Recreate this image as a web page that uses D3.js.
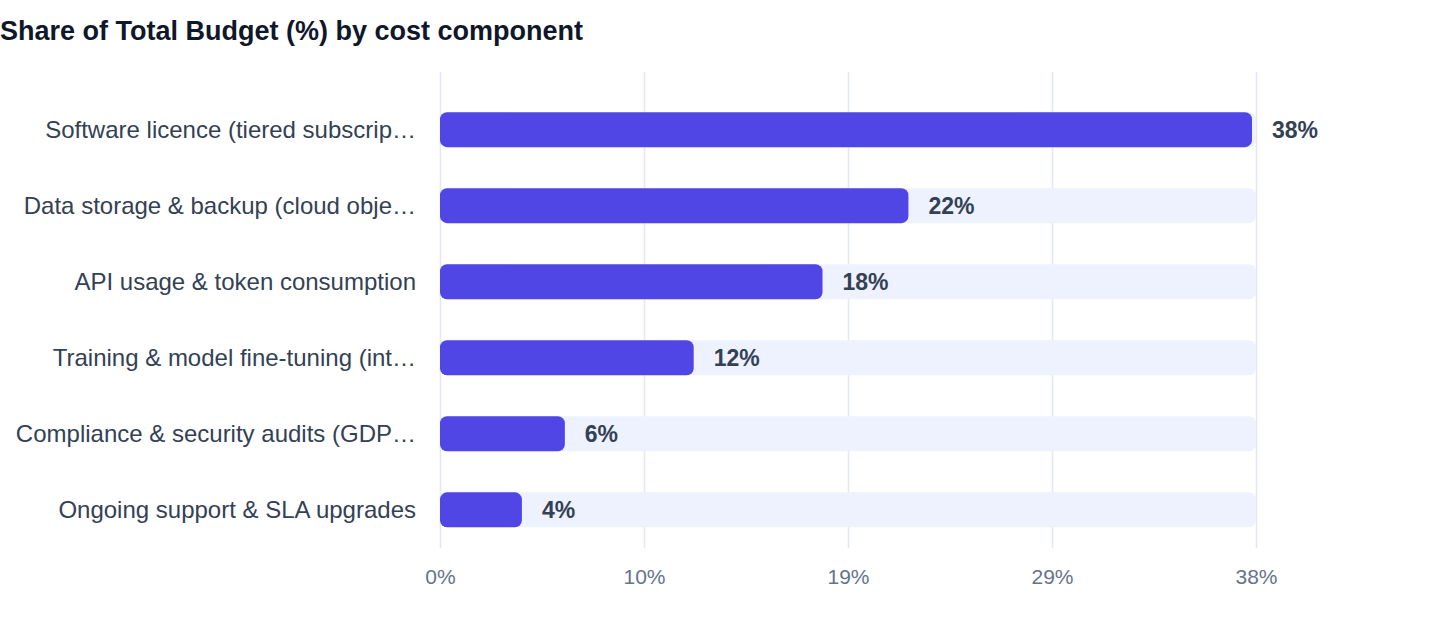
<!DOCTYPE html>
<html>
<head>
<meta charset="utf-8">
<script src="https://d3js.org/d3.v7.min.js"></script>
<style>
  body { margin: 0; background: #ffffff; font-family: "Liberation Sans", Arial, Helvetica, sans-serif; }
</style>
</head>
<body>
<div id="chart"></div>
<script>

// data
var categories = [
  "Software licence (tiered subscrip\u2026",
  "Data storage & backup (cloud obje\u2026",
  "API usage & token consumption",
  "Training & model fine-tuning (int\u2026",
  "Compliance & security audits (GDP\u2026",
  "Ongoing support & SLA upgrades"
];
var shares = [38, 22, 18, 12, 6, 4];
var tickValues = [0, 9.5, 19, 28.5, 38];

var W = 1440, H = 636;
var margin = {top: 72, right: 184, bottom: 88, left: 440};
var width = W - margin.left - margin.right,
    height = H - margin.top - margin.bottom;

var svg = d3.select("#chart")
  .append("svg")
    .attr("width", W)
    .attr("height", H);

// title
svg.append("text")
  .attr("x", 0)
  .attr("y", 40)
  .style("font-size", "27px")
  .style("font-weight", "bold")
  .style("fill", "#0f172a")
  .text("Share of Total Budget (%) by cost component");

var g = svg.append("g")
  .attr("transform", "translate(" + margin.left + "," + margin.top + ")");

var x = d3.scaleLinear()
  .domain([0, d3.max(shares)])
  .range([0, width]);

var y = d3.scaleBand()
  .domain(categories)
  .range([0, height])
  .paddingInner(0.54)
  .paddingOuter(0.4)
  .align(0.66);

// gridlines
g.append("g")
  .selectAll("line")
  .data(tickValues)
  .enter()
  .append("line")
    .attr("x1", function(d) { return x(d) + 0.5; })
    .attr("x2", function(d) { return x(d) + 0.5; })
    .attr("y1", 0)
    .attr("y2", height)
    .style("stroke", "#e2e8f0")
    .style("stroke-width", 1.5);

// x axis labels
var xAxis = g.append("g")
  .attr("transform", "translate(0," + height + ")")
  .call(d3.axisBottom(x)
    .tickValues(tickValues)
    .tickSize(0)
    .tickPadding(21)
    .tickFormat(function(d) { return Math.round(d) + "%"; }));
xAxis.select(".domain").remove();
xAxis.selectAll("text")
  .style("font-family", "'Liberation Sans', Arial, sans-serif")
  .style("font-size", "21px")
  .style("fill", "#64748b");

var rows = g.selectAll(".row")
  .data(categories)
  .enter()
  .append("g")
    .attr("class", "row");

// background tracks
rows.append("rect")
  .attr("x", 0)
  .attr("y", function(d) { return y(d); })
  .attr("width", x(d3.max(shares)))
  .attr("height", y.bandwidth())
  .attr("rx", 7)
  .style("fill", "#eef2ff");

// value bars
rows.append("rect")
  .attr("x", 0)
  .attr("y", function(d) { return y(d); })
  .attr("width", function(d, i) { return Math.max(0, x(shares[i]) - 4); })
  .attr("height", y.bandwidth())
  .attr("rx", 7)
  .style("fill", "#4f46e5");

// value labels
rows.append("text")
  .attr("x", function(d, i) { return x(shares[i]) + 16; })
  .attr("y", function(d) { return y(d) + y.bandwidth() / 2; })
  .attr("dy", "0.35em")
  .style("font-size", "23px")
  .style("font-weight", "bold")
  .style("fill", "#334155")
  .text(function(d, i) { return shares[i] + "%"; });

// category labels
rows.append("text")
  .attr("x", -24)
  .attr("y", function(d) { return y(d) + y.bandwidth() / 2; })
  .attr("dy", "0.35em")
  .attr("text-anchor", "end")
  .style("font-size", "24px")
  .style("fill", "#334155")
  .text(function(d) { return d; });

</script>
</body>
</html>
